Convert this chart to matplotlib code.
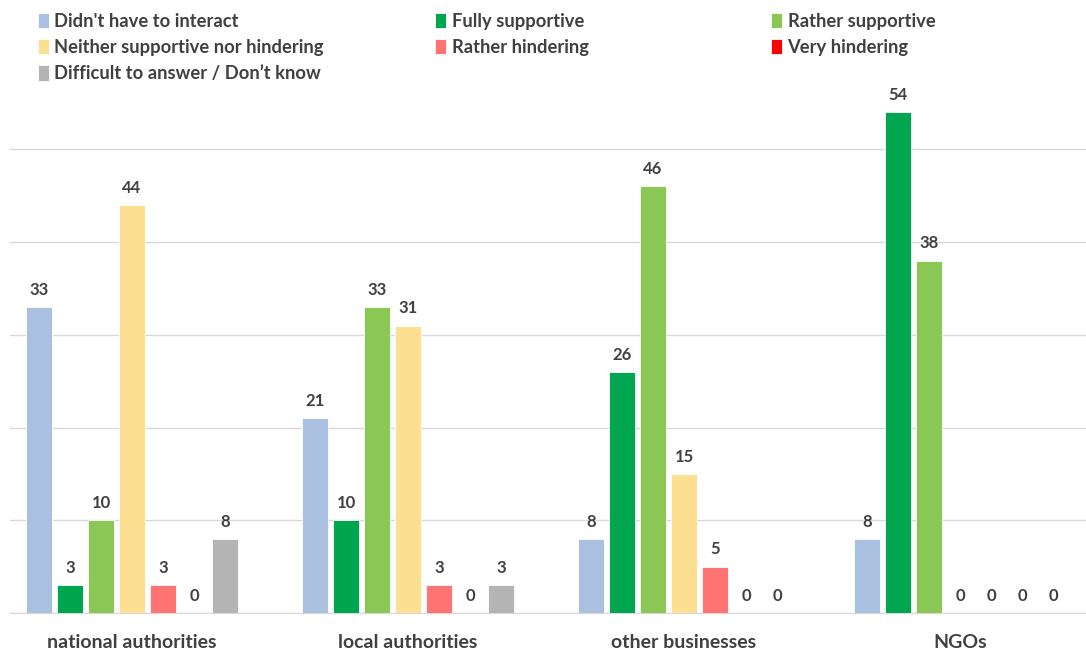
import numpy as np
import matplotlib
matplotlib.use("Agg")
import matplotlib.pyplot as plt

plt.rcParams['font.family'] = ['Lato', 'DejaVu Sans']
plt.rcParams['font.weight'] = 'bold'

categories = ["national authorities", "local authorities", "other businesses", "NGOs"]
series_names = ["Didn't have to interact", "Fully supportive", "Rather supportive",
                "Neither supportive nor hindering", "Rather hindering", "Very hindering",
                "Difficult to answer / Don\u2019t know"]
series_colors = ["#a9c0e1", "#00a54f", "#8bc755", "#fddf91", "#ff7373", "#ff0000", "#b4b4b4"]

# rows = series, columns = categories
values = [
    [33, 21, 8, 8],
    [3, 10, 26, 54],
    [10, 33, 46, 38],
    [44, 31, 15, 0],
    [3, 3, 5, 0],
    [0, 0, 0, 0],
    [8, 3, 0, 0],
]

W, H = 1086, 650
fig = plt.figure(figsize=(W / 100, H / 100), dpi=100)
# plot area in pixels: left 10, right 1086, bottom 613, top 90
ax = fig.add_axes([10 / W, 1 - 613 / H, 1076 / W, 523 / H])

x = np.arange(len(categories))
pitch = 0.1123
width = 0.092
offsets = (np.arange(len(series_names)) - 3) * pitch

containers = []
for i, (name, col) in enumerate(zip(series_names, series_colors)):
    bc = ax.bar(x + offsets[i], values[i], width, color=col, label=name,
                edgecolor='white', linewidth=0.6, zorder=3)
    containers.append(bc)
    for xi, v in zip(x + offsets[i], values[i]):
        ax.text(xi, v + 1.0, str(v), ha='center', va='bottom', fontsize=12,
                fontweight='bold', color='#404040', zorder=4)

ax.set_xlim(-0.5 + 16 / 276, 3.5 - 12 / 276)
ax.set_ylim(0, 56.4)
ax.set_yticks(np.arange(0, 60, 10))
ax.yaxis.grid(True, color='#d9d9d9', linewidth=1.0, zorder=0)
ax.set_yticklabels([])
ax.tick_params(axis='y', length=0)
ax.tick_params(axis='x', length=0, pad=15)
ax.set_xticks(x)
ax.set_xticklabels(categories, fontsize=14, fontweight='bold', color='#404040')
for s in ['top', 'right', 'left']:
    ax.spines[s].set_visible(False)
ax.spines['bottom'].set_color('#d9d9d9')

# legend in three columns, laid out row by row
cols = [[0, 3, 6], [1, 4], [2, 5]]
col_x = [38, 435, 771]
for ci, idx in enumerate(cols):
    leg = fig.legend([containers[k] for k in idx], [series_names[k] for k in idx],
                     loc='upper left', bbox_to_anchor=(col_x[ci] / W, 1 - 13 / H),
                     frameon=False, fontsize=13.2, handlelength=0.6, handleheight=0.9,
                     handletextpad=0.3, labelspacing=0.5, borderaxespad=0, borderpad=0)
    for t in leg.get_texts():
        t.set_color('#404040')
        t.set_fontweight('bold')

fig.savefig("out.png", dpi=100)
